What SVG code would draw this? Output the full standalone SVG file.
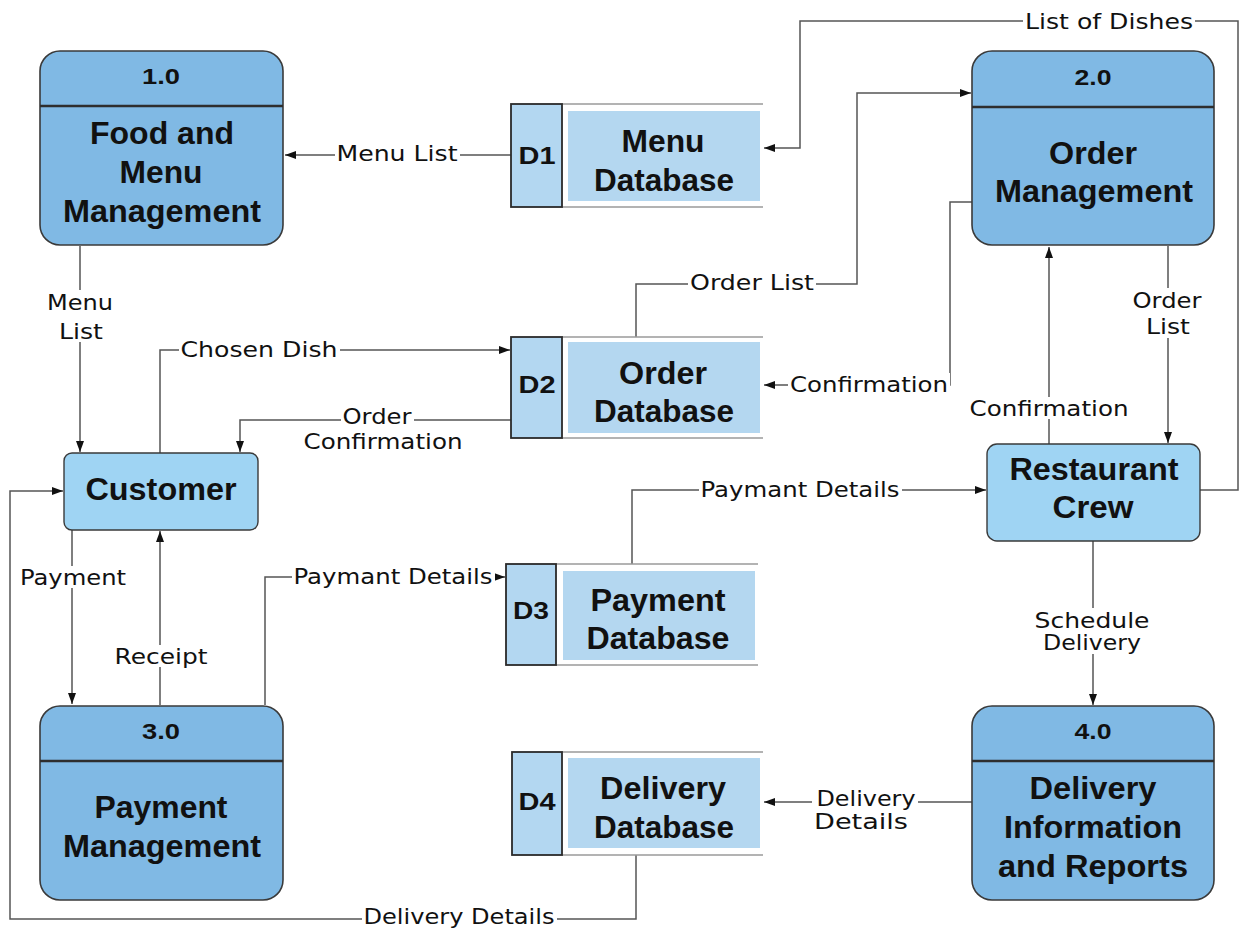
<svg xmlns="http://www.w3.org/2000/svg" width="1239" height="929" viewBox="0 0 1239 929">
  <defs>
    <marker id="arr" markerWidth="12" markerHeight="10" refX="11" refY="5" orient="auto" markerUnits="userSpaceOnUse">
      <path d="M0,1 L11,5 L0,9 z" fill="#111"/>
    </marker>
    <style>
      .proc { fill: #80b9e4; stroke: #3a3a3a; stroke-width: 1.6; }
      .ent { fill: #9fd4f3; stroke: #3a3a3a; stroke-width: 1.4; }
      .div { stroke: #2e2e2e; stroke-width: 2.4; }
      .dbox { fill: #b3d7f1; stroke: #2a2a2a; stroke-width: 1.8; }
      .dinner { fill: #b4d7f0; }
      .dline { stroke: #9a9a9a; stroke-width: 1.6; }
      .conn { fill: none; stroke: #555; stroke-width: 1.5; marker-end: url(#arr); }
      .bg { fill: #fff; }
      .t { font-family: "Liberation Sans", Arial, sans-serif; font-weight: bold; fill: #111; text-anchor: middle; }
      .title { font-size: 31px; }
      .num { font-size: 22px; }
      .did { font-size: 24px; }
      .lbl { font-family: "DejaVu Sans", "Liberation Sans", sans-serif; font-size: 21px; fill: #111; text-anchor: middle; }
    </style>
  </defs>

  <rect width="1239" height="929" fill="#fff"/>

  <!-- data flows -->
  <g id="connectors">
    <path class="conn" d="M511,155 H285"/>
    <path class="conn" d="M80,246 V452"/>
    <path class="conn" d="M160,453 V350 H510"/>
    <path class="conn" d="M511,420 H240 V452"/>
    <path class="conn" d="M72,530 V704"/>
    <path class="conn" d="M160,705 V531"/>
    <path class="conn" d="M265,705 V577 H505"/>
    <path class="conn" d="M632,564 V490 H986"/>
    <path class="conn" d="M636,337 V284 H857 V93 H971"/>
    <path class="conn" d="M972,202 H950 V385 H764"/>
    <path class="conn" d="M1049,444 V247"/>
    <path class="conn" d="M1168,246 V443"/>
    <path class="conn" d="M1200,490 H1238 V21 H800 V148 H764"/>
    <path class="conn" d="M1093,541 V705"/>
    <path class="conn" d="M972,802 H764"/>
    <path class="conn" d="M636,855 V919 H10 V491 H63"/>

    <!-- label backings so flows break around their names -->
    <rect class="bg" x="1023" y="10" width="172" height="22"/>
    <rect class="bg" x="335" y="142" width="125" height="22"/>
    <rect class="bg" x="45" y="290" width="70" height="52"/>
    <rect class="bg" x="179" y="338" width="161" height="22"/>
    <rect class="bg" x="341" y="405" width="73" height="22"/>
    <rect class="bg" x="688" y="271" width="128" height="22"/>
    <rect class="bg" x="788" y="373" width="162" height="22"/>
    <rect class="bg" x="1131" y="288" width="73" height="50"/>
    <rect class="bg" x="968" y="397" width="163" height="22"/>
    <rect class="bg" x="699" y="478" width="203" height="22"/>
    <rect class="bg" x="18" y="566" width="110" height="22"/>
    <rect class="bg" x="292" y="565" width="203" height="22"/>
    <rect class="bg" x="113" y="645" width="97" height="22"/>
    <rect class="bg" x="1033" y="608" width="119" height="46"/>
    <rect class="bg" x="812" y="789" width="106" height="44"/>
    <rect class="bg" x="362" y="905" width="195" height="22"/>

    <text class="lbl" x="1109" y="29" textLength="168" lengthAdjust="spacingAndGlyphs">List of Dishes</text>
    <text class="lbl" x="397" y="161" textLength="121" lengthAdjust="spacingAndGlyphs">Menu List</text>
    <text class="lbl" x="80" y="310" textLength="66" lengthAdjust="spacingAndGlyphs">Menu</text>
    <text class="lbl" x="81" y="339" textLength="44" lengthAdjust="spacingAndGlyphs">List</text>
    <text class="lbl" x="259" y="357" textLength="157" lengthAdjust="spacingAndGlyphs">Chosen Dish</text>
    <text class="lbl" x="377" y="424" textLength="69" lengthAdjust="spacingAndGlyphs">Order</text>
    <text class="lbl" x="383" y="449" textLength="159" lengthAdjust="spacingAndGlyphs">Confirmation</text>
    <text class="lbl" x="752" y="290" textLength="124" lengthAdjust="spacingAndGlyphs">Order List</text>
    <text class="lbl" x="869" y="392" textLength="158" lengthAdjust="spacingAndGlyphs">Confirmation</text>
    <text class="lbl" x="1167" y="308" textLength="69" lengthAdjust="spacingAndGlyphs">Order</text>
    <text class="lbl" x="1168" y="334" textLength="44" lengthAdjust="spacingAndGlyphs">List</text>
    <text class="lbl" x="1049" y="416" textLength="159" lengthAdjust="spacingAndGlyphs">Confirmation</text>
    <text class="lbl" x="800" y="497" textLength="199" lengthAdjust="spacingAndGlyphs">Paymant Details</text>
    <text class="lbl" x="73" y="585" textLength="106" lengthAdjust="spacingAndGlyphs">Payment</text>
    <text class="lbl" x="393" y="584" textLength="199" lengthAdjust="spacingAndGlyphs">Paymant Details</text>
    <text class="lbl" x="161" y="664" textLength="93" lengthAdjust="spacingAndGlyphs">Receipt</text>
    <text class="lbl" x="1092" y="628" textLength="115" lengthAdjust="spacingAndGlyphs">Schedule</text>
    <text class="lbl" x="1092" y="650" textLength="98" lengthAdjust="spacingAndGlyphs">Delivery</text>
    <text class="lbl" x="866" y="806" textLength="99" lengthAdjust="spacingAndGlyphs">Delivery</text>
    <text class="lbl" x="861" y="829" textLength="94" lengthAdjust="spacingAndGlyphs">Details</text>
    <text class="lbl" x="459" y="924" textLength="191" lengthAdjust="spacingAndGlyphs">Delivery Details</text>
  </g>

  <!-- process 1.0 -->
  <g id="p1">
    <rect class="proc" x="40" y="51" width="243" height="194" rx="20"/>
    <line class="div" x1="40" y1="106" x2="283" y2="106"/>
    <text class="t num" x="161" y="84" textLength="38" lengthAdjust="spacingAndGlyphs">1.0</text>
    <text class="t title" x="162" y="144" textLength="144" lengthAdjust="spacingAndGlyphs">Food and</text>
    <text class="t title" x="161" y="183" textLength="83" lengthAdjust="spacingAndGlyphs">Menu</text>
    <text class="t title" x="162" y="222" textLength="198" lengthAdjust="spacingAndGlyphs">Management</text>
  </g>

  <!-- process 2.0 -->
  <g id="p2">
    <rect class="proc" x="972" y="51" width="242" height="194" rx="20"/>
    <line class="div" x1="972" y1="107" x2="1214" y2="107"/>
    <text class="t num" x="1093" y="85" textLength="37" lengthAdjust="spacingAndGlyphs">2.0</text>
    <text class="t title" x="1093" y="164" textLength="88" lengthAdjust="spacingAndGlyphs">Order</text>
    <text class="t title" x="1094" y="202" textLength="198" lengthAdjust="spacingAndGlyphs">Management</text>
  </g>

  <!-- process 3.0 -->
  <g id="p3">
    <rect class="proc" x="40" y="706" width="243" height="194" rx="20"/>
    <line class="div" x1="40" y1="761" x2="283" y2="761"/>
    <text class="t num" x="161" y="739" textLength="38" lengthAdjust="spacingAndGlyphs">3.0</text>
    <text class="t title" x="161" y="818" textLength="133" lengthAdjust="spacingAndGlyphs">Payment</text>
    <text class="t title" x="162" y="857" textLength="198" lengthAdjust="spacingAndGlyphs">Management</text>
  </g>

  <!-- process 4.0 -->
  <g id="p4">
    <rect class="proc" x="972" y="706" width="242" height="194" rx="20"/>
    <line class="div" x1="972" y1="761" x2="1214" y2="761"/>
    <text class="t num" x="1093" y="739" textLength="37" lengthAdjust="spacingAndGlyphs">4.0</text>
    <text class="t title" x="1093" y="799" textLength="127" lengthAdjust="spacingAndGlyphs">Delivery</text>
    <text class="t title" x="1093" y="838" textLength="178" lengthAdjust="spacingAndGlyphs">Information</text>
    <text class="t title" x="1093" y="877" textLength="190" lengthAdjust="spacingAndGlyphs">and Reports</text>
  </g>

  <!-- external entities -->
  <g id="customer">
    <rect class="ent" x="64" y="453" width="194" height="77" rx="8"/>
    <text class="t title" x="161" y="500" textLength="151" lengthAdjust="spacingAndGlyphs">Customer</text>
  </g>
  <g id="crew">
    <rect class="ent" x="987" y="444" width="213" height="97" rx="10"/>
    <text class="t title" x="1094" y="480" textLength="169" lengthAdjust="spacingAndGlyphs">Restaurant</text>
    <text class="t title" x="1093" y="518" textLength="81" lengthAdjust="spacingAndGlyphs">Crew</text>
  </g>

  <!-- data stores -->
  <g id="d1">
    <line class="dline" x1="562" y1="104" x2="763" y2="104"/>
    <line class="dline" x1="562" y1="207" x2="763" y2="207"/>
    <rect class="dbox" x="511" y="104" width="51" height="103"/>
    <rect class="dinner" x="568" y="111" width="192" height="90"/>
    <text class="t did" x="537" y="164" textLength="37" lengthAdjust="spacingAndGlyphs">D1</text>
    <text class="t title" x="663" y="152" textLength="83" lengthAdjust="spacingAndGlyphs">Menu</text>
    <text class="t title" x="664" y="191" textLength="140" lengthAdjust="spacingAndGlyphs">Database</text>
  </g>
  <g id="d2">
    <line class="dline" x1="562" y1="337" x2="763" y2="337"/>
    <line class="dline" x1="562" y1="438" x2="763" y2="438"/>
    <rect class="dbox" x="511" y="337" width="51" height="101"/>
    <rect class="dinner" x="568" y="342" width="192" height="91"/>
    <text class="t did" x="537" y="393" textLength="37" lengthAdjust="spacingAndGlyphs">D2</text>
    <text class="t title" x="663" y="384" textLength="88" lengthAdjust="spacingAndGlyphs">Order</text>
    <text class="t title" x="664" y="422" textLength="140" lengthAdjust="spacingAndGlyphs">Database</text>
  </g>
  <g id="d3">
    <line class="dline" x1="556" y1="564" x2="758" y2="564"/>
    <line class="dline" x1="556" y1="665" x2="758" y2="665"/>
    <rect class="dbox" x="506" y="564" width="50" height="101"/>
    <rect class="dinner" x="563" y="571" width="192" height="89"/>
    <text class="t did" x="531" y="619" textLength="36" lengthAdjust="spacingAndGlyphs">D3</text>
    <text class="t title" x="658" y="611" textLength="135" lengthAdjust="spacingAndGlyphs">Payment</text>
    <text class="t title" x="658" y="649" textLength="143" lengthAdjust="spacingAndGlyphs">Database</text>
  </g>
  <g id="d4">
    <line class="dline" x1="562" y1="752" x2="763" y2="752"/>
    <line class="dline" x1="562" y1="855" x2="763" y2="855"/>
    <rect class="dbox" x="512" y="752" width="50" height="103"/>
    <rect class="dinner" x="568" y="758" width="192" height="90"/>
    <text class="t did" x="537" y="810" textLength="37" lengthAdjust="spacingAndGlyphs">D4</text>
    <text class="t title" x="663" y="799" textLength="126" lengthAdjust="spacingAndGlyphs">Delivery</text>
    <text class="t title" x="664" y="838" textLength="140" lengthAdjust="spacingAndGlyphs">Database</text>
  </g>
</svg>
